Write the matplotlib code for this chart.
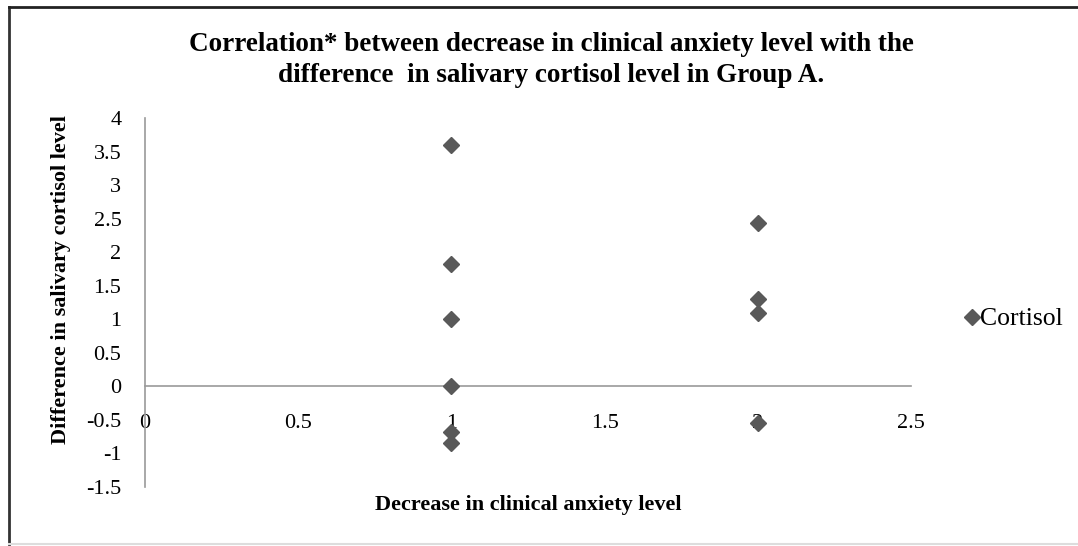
import matplotlib
matplotlib.use("Agg")
import matplotlib.pyplot as plt
from matplotlib.lines import Line2D

plt.rcParams['font.family'] = ['Liberation Serif', 'DejaVu Serif']

# Data
anxiety_decrease = [1, 1, 1, 1, 1, 1, 2, 2, 2, 2]
cortisol_diff = [3.6, 1.83, 1.0, 0.0, -0.68, -0.85, 2.44, 1.3, 1.1, -0.55]
x_ticks = [0, 0.5, 1, 1.5, 2, 2.5]
x_tick_labels = ["0", "0.5", "1", "1.5", "2", "2.5"]
y_ticks = [-1.5, -1, -0.5, 0, 0.5, 1, 1.5, 2, 2.5, 3, 3.5, 4]
y_tick_labels = ["-1.5", "-1", "-0.5", "0", "0.5", "1", "1.5", "2", "2.5", "3", "3.5", "4"]
series_name = "Cortisol"
title = ("Correlation* between decrease in clinical anxiety level with the\n"
         "difference  in salivary cortisol level in Group A.")
xlabel = "Decrease in clinical anxiety level"
ylabel = "Difference in salivary cortisol level"

W, H = 1078, 546
fig = plt.figure(figsize=(W / 100, H / 100), dpi=100)
fig.patch.set_facecolor("white")

ax = fig.add_axes([145 / W, 1 - 487 / H, (911 - 145) / W, (487 - 118) / H])
ax.set_xlim(0, 2.5)
ax.set_ylim(-1.5, 4)

marker_color = "#595959"
ax.plot(anxiety_decrease, cortisol_diff, linestyle="none", marker="D",
        markersize=8.5, color=marker_color, markeredgecolor=marker_color,
        label=series_name, zorder=3, clip_on=False)

for s in ["top", "right"]:
    ax.spines[s].set_visible(False)
ax.spines["bottom"].set_position(("data", 0))
ax.spines["left"].set_color("#9a9a9a")
ax.spines["bottom"].set_color("#9a9a9a")
ax.spines["left"].set_linewidth(1.2)
ax.spines["bottom"].set_linewidth(1.2)

ax.set_xticks(x_ticks)
ax.set_xticklabels(x_tick_labels)
ax.set_yticks(y_ticks)
ax.set_yticklabels(y_tick_labels)
ax.tick_params(axis="x", length=0, pad=20, labelsize=16)
ax.tick_params(axis="y", length=0, pad=17, labelsize=16)
for lbl in ax.get_xticklabels():
    lbl.set_zorder(2)

fig.text(551 / W, 1 - 60 / H, title, ha="center", va="center",
         fontsize=19.5, fontweight="bold", linespacing=1.3)
fig.text(528 / W, 1 - 505 / H, xlabel, ha="center", va="center",
         fontsize=16, fontweight="bold")
fig.text(61 / W, 1 - 280 / H, ylabel, ha="center", va="center",
         fontsize=16, fontweight="bold", rotation=90)

leg = ax.legend(loc="center left", bbox_to_anchor=(966 / W, 1 - 319 / H),
                bbox_transform=fig.transFigure, frameon=False,
                handlelength=0.45, handletextpad=0.1, fontsize=18.5,
                borderpad=0, borderaxespad=0)

# Outer border
fig.add_artist(Line2D([9 / W, 9 / W], [1 - 7 / H, 1 - 544 / H], color="#333333", lw=2, transform=fig.transFigure))
fig.add_artist(Line2D([9 / W, 1], [1 - 7 / H, 1 - 7 / H], color="#222222", lw=2, transform=fig.transFigure))
fig.add_artist(Line2D([9 / W, 1], [1 - 544 / H, 1 - 544 / H], color="#dddddd", lw=1.5, transform=fig.transFigure))

fig.savefig("out.png", dpi=100, facecolor="white")
